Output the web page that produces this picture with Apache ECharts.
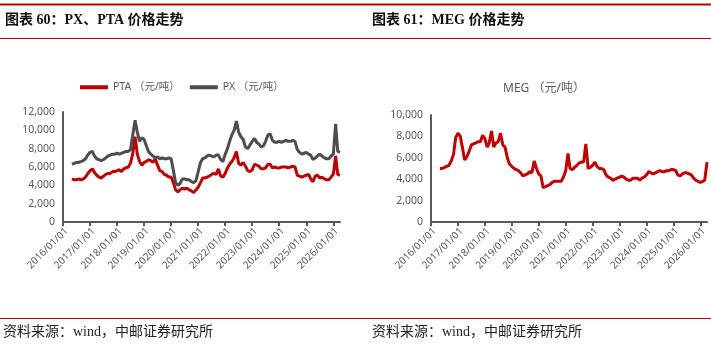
<!DOCTYPE html>
<html>
<head>
<meta charset="utf-8">
<script src="https://cdn.jsdelivr.net/npm/echarts@6/dist/echarts.min.js"></script>
<style>
  html, body { margin: 0; padding: 0; background: #fff; }
  #chart { width: 711px; height: 349px; }
</style>
</head>
<body>
<div id="chart"></div>
<script>
// Monthly observations, 2016-05 through 2026-04
const startYear = 2016, startMonth = 5, monthCount = 120;
const months = [];
for (let i = 0; i < monthCount; i++) {
  const m = startMonth - 1 + i;
  const y = startYear + Math.floor(m / 12);
  const mm = String((m % 12) + 1).padStart(2, '0');
  months.push(y + '-' + mm + '-01');
}

// PX price (CNY/t)
const pxPrice = [
  6300, 6400, 6500, 6500, 6600, 6700, 6900, 7300,                         // 2016
  7600, 7700, 7200, 6900, 6800, 6700, 6800, 7000, 7200, 7300, 7400, 7400, // 2017
  7500, 7400, 7500, 7600, 7700, 7700, 7900, 9500, 11100, 9800, 8800, 9200,// 2018
  9000, 8300, 7700, 7400, 7200, 7000, 7100, 6900, 7000, 6900, 6900, 7000, // 2019
  6900, 5600, 4300, 4000, 4200, 4700, 4700, 4600, 4600, 4400, 4300, 4500, // 2020
  5500, 6500, 6900, 7000, 7200, 7300, 7200, 7100, 7300, 7300, 6800, 6600, // 2021
  7400, 8000, 8800, 9500, 10000, 11000, 9800, 9300, 9000, 8200, 8000, 8400,// 2022
  8800, 9100, 8700, 8500, 8200, 8300, 8800, 9500, 9600, 8900, 8700, 8700, // 2023
  8800, 8700, 8800, 8900, 8800, 8800, 8900, 8800, 7900, 7600, 7400, 7500, // 2024
  7600, 7400, 7300, 6800, 7000, 7200, 7400, 7200, 7000, 6900, 6900, 7200, // 2025
  7400, 10700, 7700, 7600                                                 // 2026
];

// PTA price (CNY/t)
const ptaPrice = [
  4700, 4600, 4600, 4700, 4600, 4700, 4900, 5300,                         // 2016
  5600, 5800, 5400, 5100, 4900, 4800, 5000, 5200, 5300, 5300, 5500, 5500, // 2017
  5600, 5700, 5500, 5800, 5900, 6000, 6400, 7500, 9300, 7400, 6600, 6200, // 2018
  6500, 6600, 6800, 6700, 6500, 6900, 6200, 5600, 5500, 5200, 5100, 4900, // 2019
  4900, 4300, 3500, 3300, 3500, 3700, 3600, 3700, 3500, 3400, 3200, 3500, // 2020
  3800, 4300, 4800, 4800, 4900, 5000, 5200, 5300, 5200, 5800, 5000, 4900, // 2021
  5300, 5900, 6300, 6600, 7000, 7700, 6400, 6200, 6500, 6100, 5600, 5500, // 2022
  5700, 6300, 6200, 6100, 5800, 5800, 5900, 6300, 6300, 5900, 6000, 5900, // 2023
  5900, 6000, 6000, 6000, 5900, 6000, 6100, 6000, 5100, 5000, 4900, 5000, // 2024
  5100, 5200, 4700, 4400, 5000, 5100, 4800, 4900, 4700, 4600, 4600, 4900, // 2025
  5200, 7200, 5200, 5100                                                  // 2026
];

// MEG price (CNY/t)
const megPrice = [
  5000, 5000, 5100, 5200, 5300, 5700, 6300, 7900,                         // 2016
  8300, 8000, 7000, 5800, 6100, 6600, 7200, 7300, 7400, 7500, 7500, 8100, // 2017
  7800, 7000, 7400, 8500, 7000, 7400, 7500, 8300, 7200, 7000, 6000, 5400, // 2018
  5200, 5000, 4900, 4800, 4600, 4300, 4400, 4500, 4700, 4600, 5700, 5000, // 2019
  4500, 4300, 3200, 3300, 3400, 3500, 3700, 3800, 3800, 3800, 3800, 4200, // 2020
  4800, 6400, 5000, 4900, 5100, 5300, 5500, 5600, 5600, 7300, 5000, 5100, // 2021
  5300, 5600, 5200, 5000, 5000, 4900, 4400, 4200, 4100, 3900, 4000, 4100, // 2022
  4200, 4300, 4200, 4000, 3900, 3900, 4100, 4100, 4100, 3900, 4100, 4200, // 2023
  4400, 4700, 4600, 4500, 4600, 4700, 4800, 4700, 4700, 4800, 4800, 4900, // 2024
  4900, 4800, 4400, 4300, 4500, 4600, 4600, 4500, 4400, 4100, 3900, 3800, // 2025
  3700, 3800, 3900, 5600                                                  // 2026
];

const axisStart = '2016-01-01';
const axisEnd = months[months.length - 1];

const leftTitle = '图表 60：PX、PTA 价格走势';
const rightTitle = '图表 61：MEG 价格走势';
const sourceNote = '资料来源：wind，中邮证券研究所';
const ptaName = 'PTA （元/吨）';
const pxName = 'PX （元/吨）';
const megName = 'MEG （元/吨）';

const RED = '#C00000';
const GRAY = '#4D4D4D';
const AXIS = '#595959';
const SANS = '"Noto Sans", "Noto Sans CJK SC", sans-serif';
const SERIF = '"Liberation Serif", "Noto Sans CJK SC", serif';

function pair(values) {
  return values.map((v, i) => [months[i], v]);
}
function dateLabel(v) {
  const d = new Date(v);
  const p = n => String(n).padStart(2, '0');
  return d.getFullYear() + '/' + p(d.getMonth() + 1) + '/' + p(d.getDate());
}

function xAxisFor(gridIndex) {
  return {
    type: 'time', gridIndex,
    min: axisStart, max: axisEnd,
    splitNumber: 10,
    minInterval: 365 * 24 * 3600 * 1000,
    axisLine: { lineStyle: { color: AXIS, width: 2 } },
    axisTick: { show: true, length: 4, lineStyle: { color: AXIS, width: 2 } },
    splitLine: { show: false },
    axisLabel: {
      rotate: 45, margin: 4, color: AXIS, fontSize: 10, fontFamily: SANS,
      verticalAlign: 'top',
      showMaxLabel: false, formatter: dateLabel
    }
  };
}
function yAxisFor(gridIndex, max) {
  return {
    type: 'value', gridIndex, min: 0, max, interval: 2000,
    axisLine: { show: true, lineStyle: { color: AXIS, width: 2 } },
    axisTick: { show: false },
    splitLine: { show: false },
    axisLabel: {
      margin: 8, color: AXIS, fontSize: 10.5, fontFamily: SANS,
      formatter: v => v.toLocaleString('en-US')
    }
  };
}

const chart = echarts.init(document.getElementById('chart'), null, { renderer: 'canvas' });
chart.setOption({
  animation: false,
  backgroundColor: '#fff',
  grid: [
    { left: 63, right: 371, top: 112, bottom: 127 },
    { left: 431, right: 4, top: 115, bottom: 127 }
  ],
  xAxis: [xAxisFor(0), xAxisFor(1)],
  yAxis: [yAxisFor(0, 12000), yAxisFor(1, 10000)],
  legend: {
    data: [ptaName, pxName],
    left: 80, top: 82, padding: 0,
    icon: 'rect', itemWidth: 28, itemHeight: 4, itemGap: 10,
    textStyle: { color: AXIS, fontSize: 10.5, fontFamily: SANS }
  },
  series: [
    {
      name: ptaName, type: 'line', xAxisIndex: 0, yAxisIndex: 0,
      data: pair(ptaPrice), showSymbol: false,
      lineStyle: { color: RED, width: 3 }, itemStyle: { color: RED }
    },
    {
      name: pxName, type: 'line', xAxisIndex: 0, yAxisIndex: 0,
      data: pair(pxPrice), showSymbol: false,
      lineStyle: { color: GRAY, width: 3 }, itemStyle: { color: GRAY }
    },
    {
      name: megName, type: 'line', xAxisIndex: 1, yAxisIndex: 1,
      data: pair(megPrice), showSymbol: false,
      lineStyle: { color: RED, width: 3 }, itemStyle: { color: RED }
    }
  ],
  graphic: [
    { type: 'rect', shape: { x: 0, y: 3.5, width: 711, height: 2 }, style: { fill: RED } },
    { type: 'rect', shape: { x: 0, y: 38, width: 711, height: 1 }, style: { fill: RED } },
    { type: 'rect', shape: { x: 0, y: 318, width: 711, height: 1 }, style: { fill: RED } },
    { type: 'text', x: 5, y: 20, style: { text: leftTitle, font: 'bold 14px ' + SERIF, fill: '#111', verticalAlign: 'middle' } },
    { type: 'text', x: 372, y: 20, style: { text: rightTitle, font: 'bold 14px ' + SERIF, fill: '#111', verticalAlign: 'middle' } },
    { type: 'text', x: 544, y: 89, style: { text: megName, font: '12px ' + SANS, fill: AXIS, align: 'center', verticalAlign: 'middle' } },
    { type: 'text', x: 3, y: 332, style: { text: sourceNote, font: '14px ' + SERIF, fill: '#222', verticalAlign: 'middle' } },
    { type: 'text', x: 372, y: 332, style: { text: sourceNote, font: '14px ' + SERIF, fill: '#222', verticalAlign: 'middle' } }
  ]
});
</script>
</body>
</html>
